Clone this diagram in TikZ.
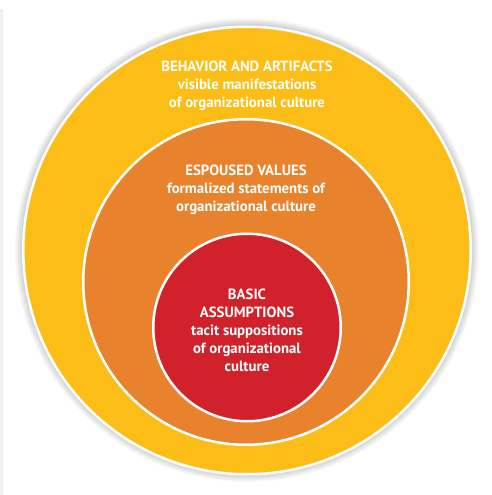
\documentclass[tikz,border=0pt]{standalone}
\usepackage{fontspec}
\setmainfont{PT Sans}
\definecolor{ringyellow}{HTML}{FCBD16}
\definecolor{ringorange}{HTML}{E9822D}
\definecolor{ringred}{HTML}{D1222B}
\definecolor{stripgray}{HTML}{EEF0F3}
\tikzset{
  ring/.style={circle, inner sep=0pt, draw=white, line width=2.5pt},
  ringtext/.style={text=white, align=center, inner sep=0pt,
    font=\bfseries\fontsize{14.8}{18}\selectfont}
}
\begin{document}
\begin{tikzpicture}[x=1pt,y=-1pt]
\useasboundingbox (0,0) rectangle (491,495);
\fill[white] (0,0) rectangle (491,495);
\fill[stripgray] (0,9) rectangle (3,495);
\foreach \i in {1,...,8}{
  \pgfmathsetlengthmacro{\shr}{(224+\i)*1pt}
  \fill[black, opacity=0.025] (247,250) circle[radius=\shr];
}
\node[ring, fill=ringyellow, minimum size=447.5pt] (outer) at (247,250.5) {};
\node[ring, fill=ringorange, minimum size=325.5pt] (middle) at (246,282) {};
\node[ring, fill=ringred, minimum size=187.5pt] (inner) at (247,327.5) {};
\node[ringtext] (outertext) at (247,85.5) {BEHAVIOR AND ARTIFACTS\\visible manifestations\\of organizational culture};
\node[ringtext] (middletext) at (246,189.5) {ESPOUSED VALUES\\formalized statements of\\organizational culture};
\node[ringtext] (innertext) at (247,330.5) {BASIC\\ASSUMPTIONS\\tacit suppositions\\of organizational\\culture};
\end{tikzpicture}
\end{document}
